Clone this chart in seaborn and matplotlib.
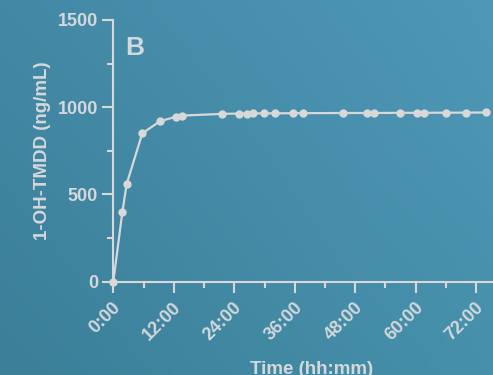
import numpy as np
import pandas as pd
import matplotlib
matplotlib.use("Agg")
import matplotlib.pyplot as plt
import matplotlib.transforms as mtransforms
from matplotlib.colors import to_rgb
from matplotlib.ticker import MultipleLocator, FuncFormatter
import seaborn as sns

# Sampling times (hours) and measured concentration (ng/mL)
time_h = [0.0, 1.8, 2.65, 5.75, 9.25, 12.4, 13.6, 21.6, 25.0, 26.5, 27.8,
          29.9, 32.1, 35.7, 37.7, 45.6, 50.3, 51.7, 56.9, 60.2, 61.7,
          66.1, 69.9, 73.9]
conc = [0, 400, 560, 850, 920, 945, 952, 962, 964, 964, 965,
        965, 965, 966, 966, 967, 967, 967, 968, 968, 968,
        969, 969, 970]

x_ticks = [0, 12, 24, 36, 48, 60, 72]
y_ticks = [0, 500, 1000, 1500]
panel_label = "B"
y_label = "1-OH-TMDD (ng/mL)"
x_label = "Time (hh:mm)"

df = pd.DataFrame({"time": time_h, "conc": conc})

sns.set_theme(style="ticks")
plt.rcParams["font.family"] = ["Liberation Sans", "DejaVu Sans"]

fg = "#d4d8da"
line_col = "#d8d8d8"

fig = plt.figure(figsize=(4.93, 3.75), dpi=100)

# Background gradient over the whole figure
bg = fig.add_axes([0, 0, 1, 1], zorder=-10)
tl, tr = np.array(to_rgb("#4389a6")), np.array(to_rgb("#4f97b7"))
bl, br = np.array(to_rgb("#3b7f98")), np.array(to_rgb("#4690ab"))
u = np.linspace(0, 1, 200)[None, :, None]
v = np.linspace(0, 1, 150)[:, None, None]
img = (1 - v) * ((1 - u) * tl + u * tr) + v * ((1 - u) * bl + u * br)
bg.imshow(img, aspect="auto", extent=[0, 1, 0, 1], interpolation="bilinear")
bg.set_axis_off()

W, H = 493, 375
left_px, right_px, top_px, bot_px = 113.3, 509.0, 20.0, 281.7
ax = fig.add_axes([left_px / W, 1 - bot_px / H,
                   (right_px - left_px) / W, (bot_px - top_px) / H])
ax.patch.set_alpha(0)

sns.lineplot(data=df, x="time", y="conc", ax=ax, color=line_col,
             linewidth=1.6, marker="o", markersize=6,
             markeredgewidth=0, clip_on=False)

xmax = (right_px - left_px) / 5.04
ax.set_xlim(0, xmax)
ax.set_ylim(0, 1500)
ax.xaxis.set_major_locator(MultipleLocator(12))
ax.xaxis.set_minor_locator(MultipleLocator(6))
ax.yaxis.set_major_locator(MultipleLocator(500))
ax.yaxis.set_minor_locator(MultipleLocator(250))
ax.set_xticks(x_ticks)
ax.set_yticks(y_ticks)
ax.xaxis.set_major_formatter(FuncFormatter(lambda val, pos: f"{int(val)}:00"))

for side in ("top", "right"):
    ax.spines[side].set_visible(False)
for side in ("left", "bottom"):
    ax.spines[side].set_color(line_col)
    ax.spines[side].set_linewidth(1.5)

ax.tick_params(which="major", length=8, width=1.5, color=line_col,
               labelcolor=fg, labelsize=13, pad=3)
ax.tick_params(which="minor", length=4.3, width=1.5, color=line_col)
for lab in ax.get_yticklabels():
    lab.set_fontweight("bold")

offset = mtransforms.ScaledTranslation(-1 / 100, -2 / 100, fig.dpi_scale_trans)
for lab in ax.get_xticklabels():
    lab.set_rotation(45)
    lab.set_ha("right")
    lab.set_va("top")
    lab.set_rotation_mode("anchor")
    lab.set_fontweight("bold")
    lab.set_transform(lab.get_transform() + offset)

ax.set_xlabel(x_label, color=fg, fontsize=13.5, fontweight="bold", labelpad=12)
ax.set_ylabel(y_label, color=fg, fontsize=13.5, fontweight="bold", labelpad=5)

ax.text(2.3, 1300, panel_label, color=fg, fontsize=19, fontweight="bold",
        ha="left", va="baseline")

fig.savefig("out.png", dpi=100)
